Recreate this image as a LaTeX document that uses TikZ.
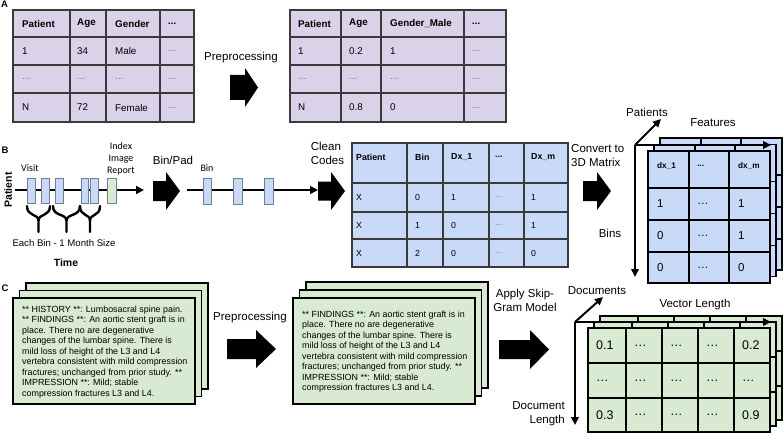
\documentclass[tikz,border=0pt]{standalone}
\usepackage{fontspec}
\setmainfont{Liberation Sans}
\newfontfamily\calfont{Carlito}
\usetikzlibrary{arrows.meta}
\definecolor{purp}{HTML}{D9D2E9}
\definecolor{lblue}{HTML}{C9DAF8}
\definecolor{lgreen}{HTML}{D9EAD3}
\definecolor{edge}{HTML}{3A3A3A}
\definecolor{boxedge}{HTML}{6F7F95}
\newcommand\tdots{...}
\newcommand\blockarrow[6]{\fill[black] (#1,#4-#6) -- (#2,#4-#6) -- (#2,#4-#5) -- (#3,#4) -- (#2,#4+#5) -- (#2,#4+#6) -- (#1,#4+#6) -- cycle;}
\newcommand\bluelayer{%
  \fill[lblue] (648,151) rectangle (770,283);
  \foreach \x in {689,729} \draw[cube] (\x,151) -- (\x,283);
  \foreach \y in {188,220,252} \draw[cube] (648,\y) -- (770,\y);
  \draw[cube] (648,151) rectangle (770,283);}
\newcommand\greenlayer{%
  \fill[lgreen] (588,328) rectangle (770,432);
  \foreach \x in {626,662,698,734} \draw[cube] (\x,328) -- (\x,432);
  \foreach \y in {363,398} \draw[cube] (588,\y) -- (770,\y);
  \draw[cube] (588,328) rectangle (770,432);}
\newcommand\docbox{%
  \draw[doc] (0,0) rectangle (182,106);}
\tikzset{
  tline/.style={draw=edge, line width=1.3pt},
  cube/.style={draw=black, line width=1.8pt},
  hd/.style={anchor=west, inner sep=0pt, font=\fontsize{9.8}{11}\selectfont\bfseries},
  td/.style={anchor=west, inner sep=0pt, font=\fontsize{9.8}{11}\selectfont},
  dt/.style={td, text=black!55},
  hdb/.style={anchor=west, inner sep=0pt, font=\fontsize{8.8}{10}\selectfont\bfseries},
  tdb/.style={anchor=west, inner sep=0pt, font=\fontsize{8.8}{10}\selectfont},
  dtb/.style={tdb, text=black!55},
  hdc/.style={anchor=west, inner sep=0pt, font=\fontsize{8.2}{10}\selectfont\bfseries},
  tdc/.style={anchor=west, inner sep=0pt, font=\fontsize{11.5}{13}\selectfont},
  tdg/.style={anchor=west, inner sep=0pt, font=\fontsize{12.5}{14}\selectfont},
  big/.style={inner sep=0pt, font=\fontsize{11.5}{14}\selectfont},
  tiny/.style={inner sep=0pt, font=\calfont\fontsize{10}{12}\selectfont},
  panel/.style={inner sep=0pt, font=\fontsize{9.5}{10}\selectfont\bfseries},
  axis/.style={line width=2pt, -{Triangle[length=8pt,width=7.5pt]}},
  doc/.style={draw=black, line width=1.8pt, fill=lgreen},
  doctext/.style={inner sep=0pt, anchor=north west, align=left, font=\fontsize{8.9}{10.5}\selectfont},
  visitbox/.style={draw=boxedge, line width=0.8pt, fill=lblue},
  imgbox/.style={draw=boxedge, line width=0.8pt, fill=lgreen},
  timeline/.style={line width=1.6pt, -{Triangle[length=8pt,width=8pt]}},
  bracepath/.style={line width=2.4pt, line cap=round, line join=round}
}
\begin{document}
\begin{tikzpicture}[x=1pt,y=-1pt]
\useasboundingbox (0,0) rectangle (784,441);

% ---------------- Panel A
\node[panel] (pA) at (4.5,4) {A};
\fill[purp] (13,10) rectangle (194,122);
\foreach \x in {70,106,160} \draw[tline] (\x,10) -- (\x,122);
\foreach \y in {37,65,93} \draw[tline] (13,\y) -- (194,\y);
\draw[tline] (13,10) rectangle (194,122);
\foreach \x/\t [count=\i] in {22/Patient,77/Age,115/Gender,168/\tdots} \node[hd] (al0\i) at (\x,23.5) {\t};
\foreach \x/\t [count=\i] in {22/1,77/34,115/Male} \node[td] (al1\i) at (\x,51) {\t};
\node[dt] (al14) at (168,51) {\tdots};
\foreach \x [count=\i] in {22,77,115,168} \node[dt] (al2\i) at (\x,79) {\tdots};
\foreach \x/\t [count=\i] in {22/N,77/72,115/Female} \node[td] (al3\i) at (\x,107.5) {\t};
\node[dt] (al34) at (168,107.5) {\tdots};

\node[big] (preA) at (241,58) {Preprocessing};
\blockarrow{230}{245}{258}{87.5}{19.5}{12.5}

\fill[purp] (290,10) rectangle (506,122);
\foreach \x in {341,381,464} \draw[tline] (\x,10) -- (\x,122);
\foreach \y in {37,65,93} \draw[tline] (290,\y) -- (506,\y);
\draw[tline] (290,10) rectangle (506,122);
\foreach \x/\t [count=\i] in {298/Patient,349/Age,390/Gender\_Male,472/\tdots} \node[hd] (ar0\i) at (\x,23.5) {\t};
\foreach \x/\t [count=\i] in {298/1,349/0.2,390/1} \node[td] (ar1\i) at (\x,51) {\t};
\node[dt] (ar14) at (472,51) {\tdots};
\foreach \x [count=\i] in {298,349,390,472} \node[dt] (ar2\i) at (\x,79) {\tdots};
\foreach \x/\t [count=\i] in {298/N,349/0.8,390/0} \node[td] (ar3\i) at (\x,107.5) {\t};
\node[dt] (ar34) at (472,107.5) {\tdots};

% ---------------- Panel B
\node[panel] (pB) at (5,150) {B};
\node[inner sep=0pt, rotate=90, font=\fontsize{10.5}{12}\selectfont\bfseries] (pat) at (8,190) {Patient};
\coordinate (t1s) at (15,190);
\coordinate (t1e) at (144,190);
\draw[timeline] (t1s) -- (t1e);
\foreach \a/\b [count=\i] in {27/35,41/49,55/63,81/88.5,90/98} \draw[visitbox] (\a,178) rectangle (\b,203);
\draw[imgbox] (107,178) rectangle (116,203);
\node[tiny] (visit) at (30,168) {Visit};
\node[tiny, align=center] (idx) at (121,159) {Index\\Image\\Report};
\foreach \l/\m/\r in {27/38.5/50,53/66.5/80,80/90/100}
  \draw[bracepath] (\l,206) .. controls (\l,217) and (\m,213) .. (\m,221) -- (\m,232)
                   (\r,206) .. controls (\r,217) and (\m,213) .. (\m,221);
\node[inner sep=0pt, font=\fontsize{9.6}{11}\selectfont] (each) at (64,243) {Each Bin - 1 Month Size};
\node[inner sep=0pt, font=\fontsize{10.5}{12}\selectfont\bfseries] (time) at (66,263) {Time};

\node[big] (binpad) at (173,160) {Bin/Pad};
\blockarrow{153}{166}{180}{191}{19}{10}

\coordinate (t2s) at (187,190);
\coordinate (t2e) at (318,190);
\draw[timeline] (t2s) -- (t2e);
\foreach \a in {203,233.5,264.5} \draw[visitbox] (\a,178) rectangle (\a+8.5,204);
\node[tiny] (binl) at (207,168) {Bin};

\node[big, align=left] (clean) at (327.5,153) {Clean\\Codes};
\blockarrow{318}{331}{345}{191}{19}{9.5}

\fill[lblue] (352,143) rectangle (568,267);
\foreach \x in {407,443,489,524} \draw[tline] (\x,143) -- (\x,267);
\foreach \y in {183,212,239} \draw[tline] (352,\y) -- (568,\y);
\draw[tline] (352,143) rectangle (568,267);
\foreach \x/\t [count=\i] in {356/Patient,415/Bin,451/Dx\_1,495/\tdots,531/Dx\_m} \node[hdb] (bt0\i) at (\x,157) {\t};
\foreach \row/\y/\vb/\va/\vm in {1/197.5/0/1/1,2/225.5/1/0/1,3/253/2/0/0}{
  \node[tdb] (bt\row1) at (356,\y) {X};
  \node[tdb] (bt\row2) at (415,\y) {\vb};
  \node[tdb] (bt\row3) at (451,\y) {\va};
  \node[dtb] (bt\row4) at (495,\y) {\tdots};
  \node[tdb] (bt\row5) at (531,\y) {\vm};
}

\node[big, align=left, anchor=west] (conv) at (571,156) {Convert to\\3D Matrix};
\blockarrow{583}{597}{611}{191}{19}{10}

\begin{scope}[shift={(12,-13)}]\bluelayer\end{scope}
\begin{scope}[shift={(6,-6.5)}]\bluelayer\end{scope}
\bluelayer
\foreach \x/\t [count=\i] in {657/dx\_1,697/\tdots,738/dx\_m} \node[hdc] (bc0\i) at (\x,166) {\t};
\foreach \row/\y/\va/\vm in {1/204/1/1,2/236/0/1,3/267.5/0/0}{
  \node[tdc] (bc\row1) at (657,\y) {\va};
  \node[tdc] (bc\row2) at (697,\y) {…};
  \node[tdc] (bc\row3) at (738,\y) {\vm};
}
\coordinate (bo) at (635,145);
\coordinate (bx) at (771,145);
\coordinate (by) at (635,277);
\coordinate (bz) at (661,119);
\draw[axis] (bo) -- (bx);
\draw[axis] (bo) -- (by);
\draw[axis] (bo) -- (bz);
\node[big] (patients) at (647,112) {Patients};
\node[big] (features) at (713,123) {Features};
\node[big] (bins) at (610,233) {Bins};

% ---------------- Panel C
\node[panel] (pC) at (5,288) {C};
\begin{scope}[shift={(26,283)}]\docbox\end{scope}
\begin{scope}[shift={(19.5,290.5)}]\docbox\end{scope}
\draw[doc] (13,298) rectangle (195,404);
\node[doctext] (doc1) at (22,305.5) {** HISTORY **: Lumbosacral spine pain.\\
** FINDINGS **: An aortic stent graft is in\\
place. There no are degenerative\\
changes of the lumbar spine. There is\\
mild loss of height of the L3 and L4\\
vertebra consistent with mild compression\\
fractures; unchanged from prior study. **\\
IMPRESSION **: Mild; stable\\
compression fractures L3 and L4.};

\node[big] (preC) at (250,318) {Preprocessing};
\blockarrow{227}{256}{276}{349}{19}{10}

\begin{scope}[shift={(306,282)}]\docbox\end{scope}
\begin{scope}[shift={(299.5,290)}]\docbox\end{scope}
\draw[doc] (293,298) rectangle (475,404);
\node[doctext] (doc2) at (302,310.5) {** FINDINGS **: An aortic stent graft is in\\
place. There no are degenerative\\
changes of the lumbar spine. There is\\
mild loss of height of the L3 and L4\\
vertebra consistent with mild compression\\
fractures; unchanged from prior study. **\\
IMPRESSION **: Mild; stable\\
compression fractures L3 and L4.};

\node[big, align=center] (skip) at (525,300.5) {Apply Skip-\\Gram Model};
\blockarrow{499}{530}{549}{349.5}{19.5}{9.5}

\begin{scope}[shift={(12,-12)}]\greenlayer\end{scope}
\begin{scope}[shift={(6,-6)}]\greenlayer\end{scope}
\greenlayer
\foreach \row/\y/\va/\vm in {1/345.5/0.1/0.2,2/380.5/…/…,3/415/0.3/0.9}{
  \node[tdg] (gc\row1) at (596,\y) {\va};
  \node[tdg] (gc\row2) at (634,\y) {…};
  \node[tdg] (gc\row3) at (670,\y) {…};
  \node[tdg] (gc\row4) at (706,\y) {…};
  \node[tdg] (gc\row5) at (742,\y) {\vm};
}
\coordinate (go) at (575,322);
\coordinate (gx) at (771,322);
\coordinate (gy) at (575,425);
\coordinate (gz) at (603,297);
\draw[axis] (go) -- (gx);
\draw[axis] (go) -- (gy);
\draw[axis] (go) -- (gz);
\node[big] (docs) at (597,291) {Documents};
\node[big] (veclen) at (695,305) {Vector Length};
\node[big, align=right, anchor=east] (doclen) at (565,414) {Document\\Length};
\end{tikzpicture}
\end{document}
